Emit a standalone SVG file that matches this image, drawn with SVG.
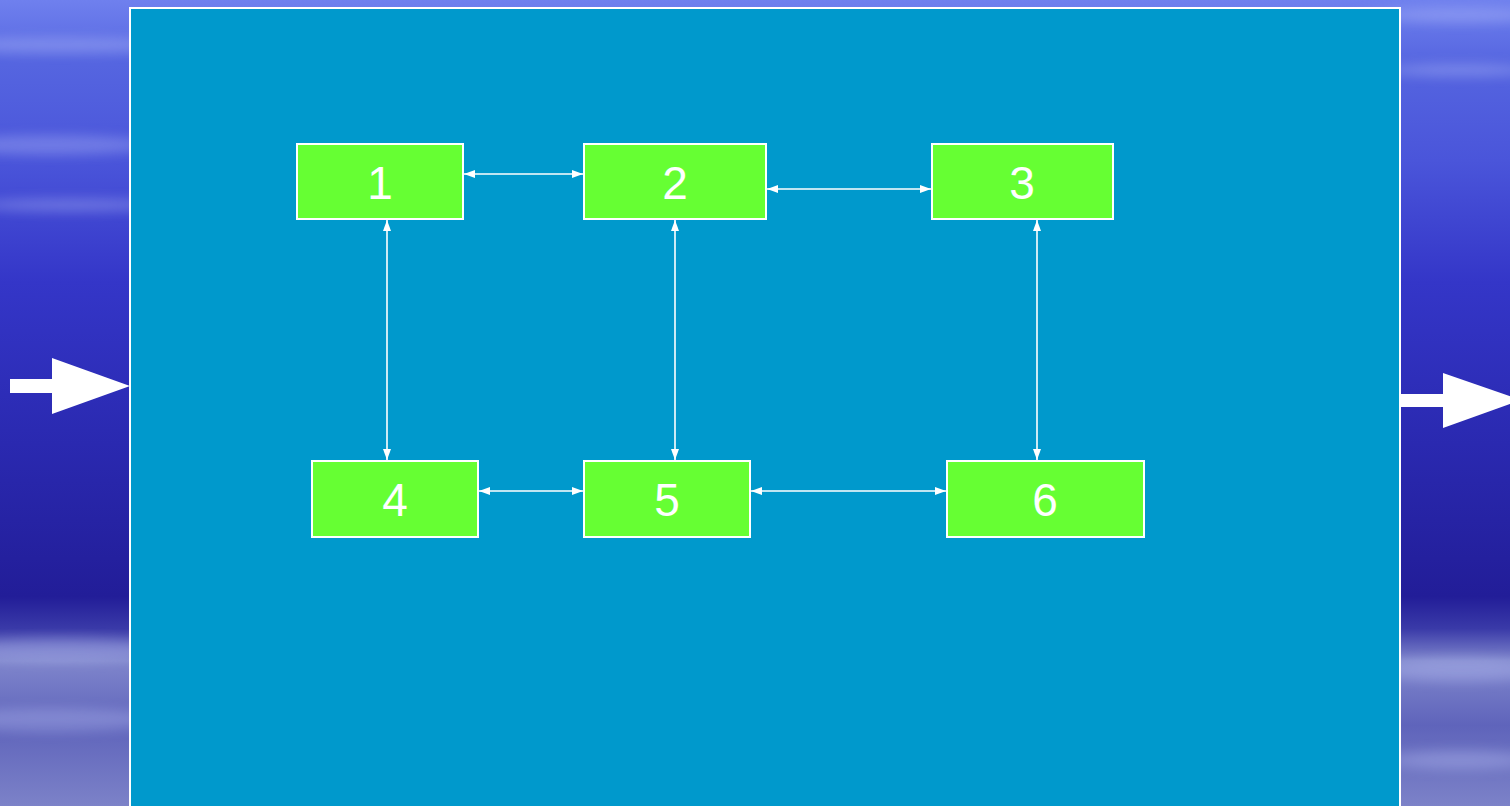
<svg xmlns="http://www.w3.org/2000/svg" width="1510" height="806" viewBox="0 0 1510 806">
  <defs>
    <linearGradient id="sky" x1="0" y1="0" x2="0" y2="1">
      <stop offset="0" stop-color="#6f80ee"/>
      <stop offset="0.08" stop-color="#5565e0"/>
      <stop offset="0.2" stop-color="#4a55da"/>
      <stop offset="0.35" stop-color="#3436c8"/>
      <stop offset="0.55" stop-color="#2a29b0"/>
      <stop offset="0.74" stop-color="#221d98"/>
      <stop offset="0.78" stop-color="#3a3aa8"/>
      <stop offset="0.82" stop-color="#7f86cc"/>
      <stop offset="0.9" stop-color="#5f64bb"/>
      <stop offset="1" stop-color="#7c82c8"/>
    </linearGradient>
    <filter id="soft" x="-50%" y="-300%" width="200%" height="700%">
      <feGaussianBlur stdDeviation="20 6"/>
    </filter>
    <marker id="tip" viewBox="0 0 11 8" refX="11" refY="4" markerWidth="11" markerHeight="8" markerUnits="userSpaceOnUse" orient="auto-start-reverse">
      <path d="M0,0 L11,4 L0,8 Z" fill="#ffffff"/>
    </marker>
    <style>
      .node rect { fill: #66ff33; stroke: #ffffff; stroke-width: 2; }
      .node text { fill: #ffffff; font-family: "Liberation Sans", Arial, sans-serif; font-size: 46px; text-anchor: middle; }
      .link { stroke: #ffffff; stroke-width: 1.6; fill: none; marker-start: url(#tip); marker-end: url(#tip); }
      .flow { fill: #ffffff; }
      .streak { fill: #c8d0ff; filter: url(#soft); }
    </style>
  </defs>

  <!-- textured blue backdrop -->
  <rect x="0" y="0" width="1510" height="806" fill="url(#sky)"/>
  <g opacity="0.3">
    <ellipse class="streak" cx="60" cy="45" rx="120" ry="8"/>
    <ellipse class="streak" cx="50" cy="145" rx="110" ry="10"/>
    <ellipse class="streak" cx="70" cy="205" rx="100" ry="7"/>
    <ellipse class="streak" cx="1460" cy="15" rx="90" ry="8"/>
    <ellipse class="streak" cx="1460" cy="70" rx="80" ry="7"/>
    <ellipse class="streak" cx="60" cy="650" rx="110" ry="12"/>
    <ellipse class="streak" cx="50" cy="720" rx="120" ry="12"/>
    <ellipse class="streak" cx="1460" cy="670" rx="90" ry="12"/>
    <ellipse class="streak" cx="1460" cy="760" rx="80" ry="10"/>
  </g>

  <!-- central panel -->
  <rect x="130" y="8" width="1270" height="810" fill="#0099cc" stroke="#ffffff" stroke-width="2"/>

  <!-- input / output arrows -->
  <polygon class="flow" points="10,379 52,379 52,358 130,386 52,414 52,393 10,393"/>
  <polygon class="flow" points="1401,394 1443,394 1443,373 1521,400 1443,428 1443,407 1401,407"/>

  <!-- connectors -->
  <g id="connectors">
    <line class="link" x1="464" y1="174" x2="583" y2="174"/>
    <line class="link" x1="767" y1="189" x2="931" y2="189"/>
    <line class="link" x1="387" y1="220" x2="387" y2="460"/>
    <line class="link" x1="675" y1="220" x2="675" y2="460"/>
    <line class="link" x1="1037" y1="220" x2="1037" y2="460"/>
    <line class="link" x1="479" y1="491" x2="583" y2="491"/>
    <line class="link" x1="751" y1="491" x2="946" y2="491"/>
  </g>

  <!-- nodes -->
  <g id="node1" class="node">
    <rect x="297" y="144" width="166" height="75"/>
    <text x="380" y="199">1</text>
  </g>
  <g id="node2" class="node">
    <rect x="584" y="144" width="182" height="75"/>
    <text x="675" y="199">2</text>
  </g>
  <g id="node3" class="node">
    <rect x="932" y="144" width="181" height="75"/>
    <text x="1022" y="199">3</text>
  </g>
  <g id="node4" class="node">
    <rect x="312" y="461" width="166" height="76"/>
    <text x="395" y="516">4</text>
  </g>
  <g id="node5" class="node">
    <rect x="584" y="461" width="166" height="76"/>
    <text x="667" y="516">5</text>
  </g>
  <g id="node6" class="node">
    <rect x="947" y="461" width="197" height="76"/>
    <text x="1045" y="516">6</text>
  </g>
</svg>
